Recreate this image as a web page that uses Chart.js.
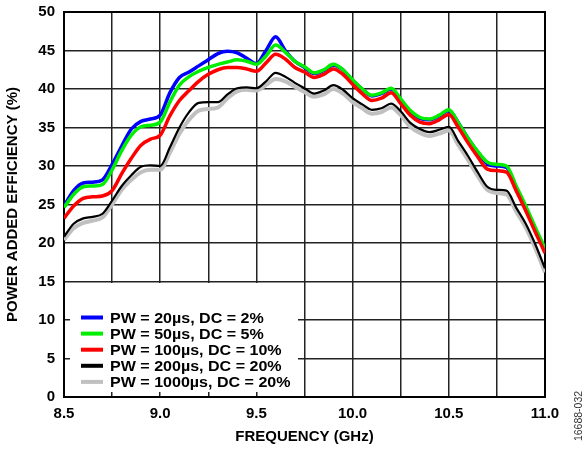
<!DOCTYPE html>
<html>
<head>
<meta charset="utf-8">
<script src="https://cdn.jsdelivr.net/npm/chart.js@4.4.0/dist/chart.umd.min.js"></script>
<style>
  body { margin: 0; background: #fff; }
</style>
</head>
<body>
<canvas id="pae" width="585" height="450"></canvas>
<script>
// frequency points (GHz)
const freq = [8.5, 8.55, 8.6, 8.65, 8.7, 8.75, 8.8, 8.85, 8.9, 8.95,
  9.0, 9.05, 9.1, 9.15, 9.2, 9.25, 9.3, 9.35, 9.4, 9.45,
  9.5, 9.55, 9.6, 9.65, 9.7, 9.75, 9.8, 9.85, 9.9, 9.95,
  10.0, 10.05, 10.1, 10.15, 10.2, 10.25, 10.3, 10.35, 10.4, 10.45,
  10.5, 10.55, 10.6, 10.65, 10.7, 10.75, 10.8, 10.85, 10.9, 10.95, 11.0];

const pw20 = [24.8, 26.8, 27.8, 27.9, 28.2, 30.2, 32.6, 34.8, 35.8, 36.1,
  36.6, 39.5, 41.5, 42.2, 43.0, 43.8, 44.6, 44.9, 44.7, 44.0,
  43.3, 45.0, 46.8, 45.0, 43.6, 42.8, 42.0, 42.4, 43.1, 42.5,
  41.1, 40.0, 39.1, 39.4, 40.0, 38.6, 37.0, 36.2, 36.0, 36.5,
  37.2, 35.6, 33.6, 31.8, 30.3, 30.0, 29.8, 27.2, 24.5, 21.7, 19.0];

const pw50 = [24.6, 26.3, 27.3, 27.4, 27.6, 29.5, 32.0, 34.0, 35.1, 35.3,
  35.7, 38.3, 40.5, 41.6, 42.3, 42.8, 43.2, 43.5, 43.8, 43.6,
  43.2, 44.3, 45.7, 44.8, 43.6, 42.9, 42.1, 42.5, 43.2, 42.5,
  41.2, 40.0, 39.2, 39.5, 40.1, 38.7, 37.2, 36.3, 36.1, 36.6,
  37.3, 35.6, 33.6, 31.9, 30.5, 30.2, 30.0, 27.4, 24.8, 22.0, 19.3];

const pw100 = [23.2, 24.8, 25.8, 26.0, 26.1, 26.8, 29.0, 31.0, 32.7, 33.5,
  34.0, 36.5, 38.5, 39.8, 41.0, 41.9, 42.5, 42.8, 42.8, 42.6,
  42.3, 43.4, 44.5, 43.9, 42.8, 42.2, 41.5, 41.9, 42.6, 41.9,
  40.6, 39.4, 38.5, 38.8, 39.5, 38.1, 36.6, 35.7, 35.5, 36.0,
  36.7, 35.0, 33.0, 31.2, 29.6, 29.4, 29.2, 26.8, 24.2, 21.4, 18.7];

const pw200 = [20.8, 22.5, 23.2, 23.4, 23.8, 25.5, 27.4, 28.8, 29.9, 30.1,
  30.0, 32.4, 35.0, 37.0, 38.2, 38.3, 38.3, 39.3, 40.1, 40.2,
  40.1, 41.0, 42.1, 41.6, 40.8, 40.1, 39.4, 39.8, 40.5, 39.9,
  38.8, 38.0, 37.3, 37.5, 38.1, 37.1, 35.6, 34.8, 34.4, 34.7,
  35.1, 33.2, 31.3, 29.2, 27.3, 26.9, 26.8, 24.6, 22.5, 19.8, 16.7];

const pw1000 = [20.4, 21.9, 22.6, 22.9, 23.3, 25.0, 26.9, 28.2, 29.2, 29.5,
  29.5, 31.7, 34.2, 36.0, 37.2, 37.4, 37.6, 38.8, 39.7, 39.9,
  39.8, 40.5, 41.3, 41.0, 40.3, 39.6, 39.0, 39.3, 40.0, 39.4,
  38.3, 37.5, 36.8, 37.0, 37.6, 36.6, 35.1, 34.3, 33.9, 34.2,
  34.6, 32.7, 30.8, 28.7, 26.9, 26.5, 26.3, 24.1, 22.0, 19.3, 16.2];

const seriesLabels = ['PW = 20µs, DC = 2%', 'PW = 50µs, DC = 5%', 'PW = 100µs, DC = 10%',
  'PW = 200µs, DC = 20%', 'PW = 1000µs, DC = 20%'];
const seriesColors = ['#0000ff', '#00ee00', '#ff0000', '#000000', '#c0c0c0'];
const seriesWidths = [3.5, 3.5, 3.5, 2.2, 4];
const seriesOrder = [5, 4, 3, 1, 2];   // black on top, blue at the bottom

const FONT = '"Liberation Sans", Arial, sans-serif';
const PLOT_TOP = 12;

function pts(vals) {
  return freq.map((f, i) => ({ x: f, y: vals[i] }));
}

const allSeries = [pw20, pw50, pw100, pw200, pw1000];
const datasets = allSeries.map((vals, i) => ({
  label: seriesLabels[i],
  data: pts(vals),
  borderColor: seriesColors[i],
  borderWidth: seriesWidths[i],
  pointRadius: 0,
  fill: false,
  cubicInterpolationMode: 'monotone',
  order: seriesOrder[i]
}));

// white legend box + frame + figure number
const paePlugin = {
  id: 'paeDecor',
  beforeDatasetsDraw(chart) {
    const ctx = chart.ctx;
    const a = chart.chartArea;
    const y15 = chart.scales.y.getPixelForValue(15);
    ctx.save();
    ctx.fillStyle = '#fff';
    ctx.fillRect(a.left + 6, y15 + 1.5, 228, a.bottom - 5 - (y15 + 1.5));
    ctx.strokeStyle = '#000';
    ctx.lineWidth = 2;
    ctx.strokeRect(a.left, a.top, a.right - a.left, a.bottom - a.top);
    ctx.restore();
  },
  afterDraw(chart) {
    const ctx = chart.ctx;
    ctx.save();
    ctx.font = 'bold 15px ' + FONT;
    ctx.textBaseline = 'middle';
    ctx.textAlign = 'left';
    for (let i = 0; i < seriesLabels.length; i++) {
      const y = 317.5 + i * 16.1;
      ctx.strokeStyle = seriesColors[i];
      ctx.lineWidth = 4;
      ctx.beginPath();
      ctx.moveTo(81, y);
      ctx.lineTo(103, y);
      ctx.stroke();
      ctx.fillStyle = '#000';
      ctx.save();
      ctx.translate(110, y + 1);
      ctx.scale(1.07, 1);
      ctx.fillText(seriesLabels[i], 0, 0);
      ctx.restore();
    }
    ctx.translate(579, 416);
    ctx.rotate(-Math.PI / 2);
    ctx.font = '10.5px ' + FONT;
    ctx.fillStyle = '#333';
    ctx.textAlign = 'center';
    ctx.fillText('16688-032', 0, 0);
    ctx.restore();
  }
};

const chart = new Chart(document.getElementById('pae'), {
  type: 'line',
  data: { datasets: datasets },
  plugins: [paePlugin],
  options: {
    responsive: false,
    animation: false,
    layout: { padding: { left: 0, right: 40, top: PLOT_TOP, bottom: 0 } },
    plugins: {
      legend: { display: false },
      tooltip: { enabled: false }
    },
    scales: {
      x: {
        type: 'linear',
        min: 8.5,
        max: 11.0,
        afterFit: s => { s.height = 53; },
        ticks: {
          stepSize: 0.25,
          autoSkip: false,
          maxRotation: 0,
          padding: 8,
          color: '#000',
          font: { family: FONT, size: 15, weight: 'bold' },
          callback: v => (Math.abs(v * 2 - Math.round(v * 2)) < 1e-6 ? v.toFixed(1) : '')
        },
        grid: { color: '#222', lineWidth: 1.5, drawTicks: false },
        border: { color: '#000', width: 2 },
        title: {
          display: true,
          text: 'FREQUENCY (GHz)',
          color: '#000',
          font: { family: FONT, size: 15, weight: 'bold' },
          padding: { top: 4, bottom: 4 }
        }
      },
      y: {
        min: 0,
        max: 50,
        afterFit: s => { s.width = 64; s.paddingTop = 0; s.paddingBottom = 0; },
        ticks: {
          stepSize: 5,
          padding: 9,
          color: '#000',
          font: { family: FONT, size: 15, weight: 'bold' }
        },
        grid: { color: '#222', lineWidth: 1.5, drawTicks: false },
        border: { color: '#000', width: 2 },
        title: {
          display: true,
          text: 'POWER ADDED EFFICIENCY (%)',
          color: '#000',
          font: { family: FONT, size: 15, weight: 'bold' },
          padding: { top: 4, bottom: 4 }
        }
      }
    }
  }
});

// nudge the plot top onto the reference position if the layout added extra room
const extra = chart.chartArea.top - PLOT_TOP;
if (Math.abs(extra) > 0.5) {
  chart.options.layout.padding.top = PLOT_TOP - extra;
  chart.update();
}
</script>
</body>
</html>
